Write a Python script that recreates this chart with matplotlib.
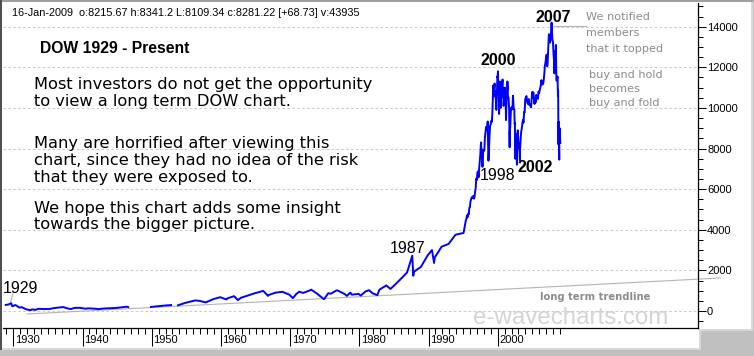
import numpy as np
import matplotlib.pyplot as plt
from matplotlib.patches import Rectangle
from matplotlib.ticker import MultipleLocator

plt.rcParams['font.family'] = ['Liberation Sans', 'DejaVu Sans']

W, H = 754, 356

# DOW closes before 1995 (nan = hole in the source data)
early_years = [1928.9, 1929.3, 1929.7, 1929.85, 1930.3, 1930.9, 1931.2, 1931.9, 1932.5, 1932.7,
               1933.2, 1933.6, 1934.5, 1935.2, 1935.9, 1936.9, 1937.2, 1937.9, 1938.3, 1938.9,
               1939.7, 1940.4, 1940.9, 1941.9, 1942.3, 1942.9, 1943.9, 1944.9, 1945.9, 1946.4,
               1946.6, 1948.0, 1949.9, 1950.9, 1951.9, 1952.8, 1953.3, 1953.8, 1954.9, 1955.9,
               1956.3, 1956.9, 1957.8, 1957.9, 1958.9, 1959.9, 1960.8, 1960.9, 1961.9, 1962.45,
               1962.9, 1963.9, 1964.9, 1965.9, 1966.1, 1966.8, 1966.9, 1967.9, 1968.9, 1969.9,
               1970.4, 1970.9, 1971.3, 1971.9, 1972.9, 1973.05, 1973.9, 1974.9, 1975.5, 1975.9,
               1976.7, 1976.9, 1977.9, 1978.2, 1978.7, 1978.9, 1979.9, 1980.2, 1980.9, 1981.4,
               1981.9, 1982.6, 1982.9, 1983.9, 1984.5, 1984.9, 1985.9, 1986.9, 1987.65, 1987.8,
               1987.9, 1988.9, 1989.9, 1990.5, 1990.8, 1990.9, 1991.9, 1992.9, 1993.9, 1994.9]
early_dow = [300, 320, 381, 230, 294, 165, 190, 78, 41, 79,
             55, 108, 96, 100, 144, 180, 194, 121, 99, 155,
             155, 112, 131, 111, 93, 119, 136, 152, 193, 212,
             190, np.nan, 200, 235, 269, 292, np.nan, 281, 404, 488,
             521, 500, 420, 436, 584, 679, 566, 616, 731, 536,
             652, 763, 874, 969, 995, 744, 786, 905, 944, 800,
             631, 839, 950, 890, 1020, 1051, 851, 577, 870, 852,
             1014, 1005, 831, 742, 907, 805, 839, 759, 964, 1024,
             875, 777, 1047, 1259, 1086, 1212, 1547, 1896, 2722, 1738,
             1939, 2169, 2753, 2999, 2365, 2634, 3169, 3301, 3754, 3834]

# month-end closes from Jan 1995 to Dec 2008
monthly_start = 1995
monthly_dow = [3844, 4011, 4158, 4321, 4465, 4556, 4709, 4611, 4789, 4756, 5075, 5117,
               5395, 5486, 5588, 5569, 5643, 5655, 5529, 5616, 5882, 6029, 6522, 6448,
               6813, 6878, 6584, 7009, 7331, 7673, 8223, 7622, 7945, 7442, 7823, 7908,
               7907, 8546, 8800, 9063, 8900, 8952, 8883, 7539, 7843, 8592, 9117, 9181,
               9359, 9307, 9786, 10789, 10560, 10971, 10655, 10829, 10337, 10729, 10878, 11497,
               10941, 10128, 10922, 10734, 10522, 10448, 10522, 11215, 10651, 10971, 10415, 10787,
               10887, 10495, 9879, 10735, 10912, 10502, 10523, 9950, 8848, 9075, 9852, 10022,
               9920, 10106, 10404, 9946, 9925, 9243, 8737, 8664, 7592, 8397, 8896, 8342,
               8054, 7891, 7992, 8480, 8850, 8985, 9234, 9416, 9275, 9801, 9782, 10454,
               10488, 10584, 10358, 10226, 10188, 10435, 10140, 10174, 10080, 10027, 10428, 10783,
               10490, 10766, 10504, 10193, 10467, 10275, 10641, 10482, 10569, 10440, 10806, 10718,
               10865, 10993, 11109, 11367, 11168, 11150, 11186, 11381, 11679, 12081, 12221, 12463,
               12622, 12269, 12354, 13063, 13628, 13409, 13212, 13358, 13896, 13930, 13372, 13265,
               12650, 12266, 12263, 12820, 12638, 11350, 11378, 11544, 10851, 9325, 8829, 8776]

# weekly highs / lows that stick out of the monthly closes
extra_years = [1997.6, 1997.8, 1998.55, 1998.66, 1999.35, 1999.55, 1999.8, 1999.95, 2000.04,
               2000.2, 2000.3, 2000.45, 2000.7, 2000.85, 2001.05, 2001.2, 2001.4, 2001.72,
               2002.2, 2002.45, 2002.55, 2002.78, 2003.2, 2007.15, 2007.78, 2008.2, 2008.4,
               2008.7, 2008.78, 2008.89, 2008.95, 2009.04]
extra_dow = [8300, 7100, 9330, 7400, 11100, 11200, 9900, 11550, 11800,
             9700, 11300, 10000, 11400, 10100, 11000, 9400, 11300, 8060,
             10600, 9200, 7500, 7200, 7420, 12050, 14200, 11700, 13100,
             10600, 8200, 7450, 9000, 8281]

trend_years = [1931.98, 2032.15]
trend_dow = [-148, 1625]

yticks = list(range(0, 14001, 2000))
xticks = list(range(1930, 2001, 10))

month_years = monthly_start + (np.arange(len(monthly_dow)) + 1) / 12.0 - 0.02
years = np.concatenate([early_years, month_years, extra_years])
dow = np.concatenate([early_dow, monthly_dow, extra_dow]).astype(float)
order = np.argsort(years)
years, dow = years[order], dow[order]


fig = plt.figure(figsize=(W / 100, H / 100), dpi=100, facecolor='#c0c0c0')


def fxy(x, y):
    return x / W, 1 - y / H


def box(x0, y0, x1, y1, color):
    fig.patches.append(Rectangle(fxy(x0, y1), (x1 - x0) / W, (y1 - y0) / H,
                                 transform=fig.transFigure, fc=color, ec='none', zorder=-10))


box(0, 0, 753, 331, '#d8d8d8')
box(0, 0, 701, 350, '#d8d8d8')
box(2, 2, 751, 329, 'white')
box(2, 2, 699, 348, 'white')
box(0, 0, 753, 2, '#a0a0a0')
box(0, 0, 2, 350, '#505050')

ax = fig.add_axes([3 / W, 1 - 328 / H, 695 / W, 325 / H])
ax.set_facecolor('none')
ax.set_xlim(1928.51, 2028.94)
ax.set_ylim(-837, 15165)

for t in yticks:
    ax.axhline(t, color='#cccccc', lw=0.75, dashes=(2.5, 2.2), zorder=1)

ax.plot(trend_years, trend_dow, color='#b4b4b4', lw=0.8, clip_on=False, zorder=2)
ax.plot([1929.6, 1930.0], [394, 936], color='#b4b4b4', lw=0.8, zorder=2)
ax.plot([2008.2, 2012.8], [14040, 14040], color='#b4b4b4', lw=0.8, zorder=2)
ax.plot(years, dow, color='#0000ff', lw=1.4, zorder=3)

for s in ['left', 'top']:
    ax.spines[s].set_visible(False)
for s in ['right', 'bottom']:
    ax.spines[s].set_linewidth(0.9)

ax.yaxis.tick_right()
ax.set_yticks(yticks)
ax.yaxis.set_minor_locator(MultipleLocator(500))
ax.tick_params(axis='y', which='major', length=5.5, width=0.75, pad=1, labelsize=8)
ax.tick_params(axis='y', which='minor', length=3.5, width=0.75)

ax.set_xticks(xticks)
ax.set_xticks(range(1929, 2010), minor=True)
ax.set_xticklabels([])
ax.tick_params(axis='x', which='major', length=13, width=0.75)
ax.tick_params(axis='x', which='minor', length=4, width=0.75)
for t in xticks:
    ax.annotate(str(t), xy=(t, 0), xycoords=('data', 'axes fraction'), xytext=(1.2, -8.6),
                textcoords='offset points', ha='left', va='center', fontsize=8)

# year labels on the chart
ax.text(1928.5, 900, '1929', fontsize=11.5, va='baseline')
ax.text(1984.44, 2850, '1987', fontsize=11.5, va='baseline')
ax.text(1997.44, 6450, '1998', fontsize=11.5, va='baseline')
ax.text(1997.44, 12110, '2000', fontsize=11.5, fontweight='bold', va='baseline')
ax.text(2002.79, 6860, '2002', fontsize=11.5, fontweight='bold', va='baseline')
ax.text(2005.39, 14240, '2007', fontsize=11.5, fontweight='bold', va='baseline')

fig.text(*fxy(12, 16.5), '16-Jan-2009  o:8215.67 h:8341.2 L:8109.34 c:8281.22 [+68.73] v:43935',
         fontsize=7.8, va='baseline')
fig.text(*fxy(40, 53.3), 'DOW 1929 - Present', fontsize=11.3, fontweight='bold', va='baseline')

body = [('Most investors do not get the opportunity', 89.3),
        ('to view a long term DOW chart.', 106),
        ('Many are horrified after viewing this', 148),
        ('chart, since they had no idea of the risk', 165),
        ('that they were exposed to.', 182),
        ('We hope this chart adds some insight', 213),
        ('towards the bigger picture.', 229.5)]
for s, y in body:
    fig.text(*fxy(34, y), s, fontsize=11.7, family='DejaVu Sans', va='baseline')

notes = [('We notified', 586, 20), ('members', 586, 36), ('that it topped', 586, 51.5),
         ('buy and hold', 589, 77.5), ('becomes', 589, 91.5), ('buy and fold', 589, 106)]
for s, x, y in notes:
    fig.text(*fxy(x, y), s, fontsize=8.1, family='DejaVu Sans', color='#8c8c8c', va='baseline')

fig.text(*fxy(540, 300), 'long term trendline', fontsize=7.2, fontweight='bold',
         family='DejaVu Sans', color='#8c8c8c', va='baseline')
fig.text(*fxy(473, 323.5), 'e-wavecharts.com', fontsize=17.4, color='#d4d4d4', va='baseline',
         zorder=-5)

fig.savefig('out.png', dpi=100, facecolor=fig.get_facecolor())
